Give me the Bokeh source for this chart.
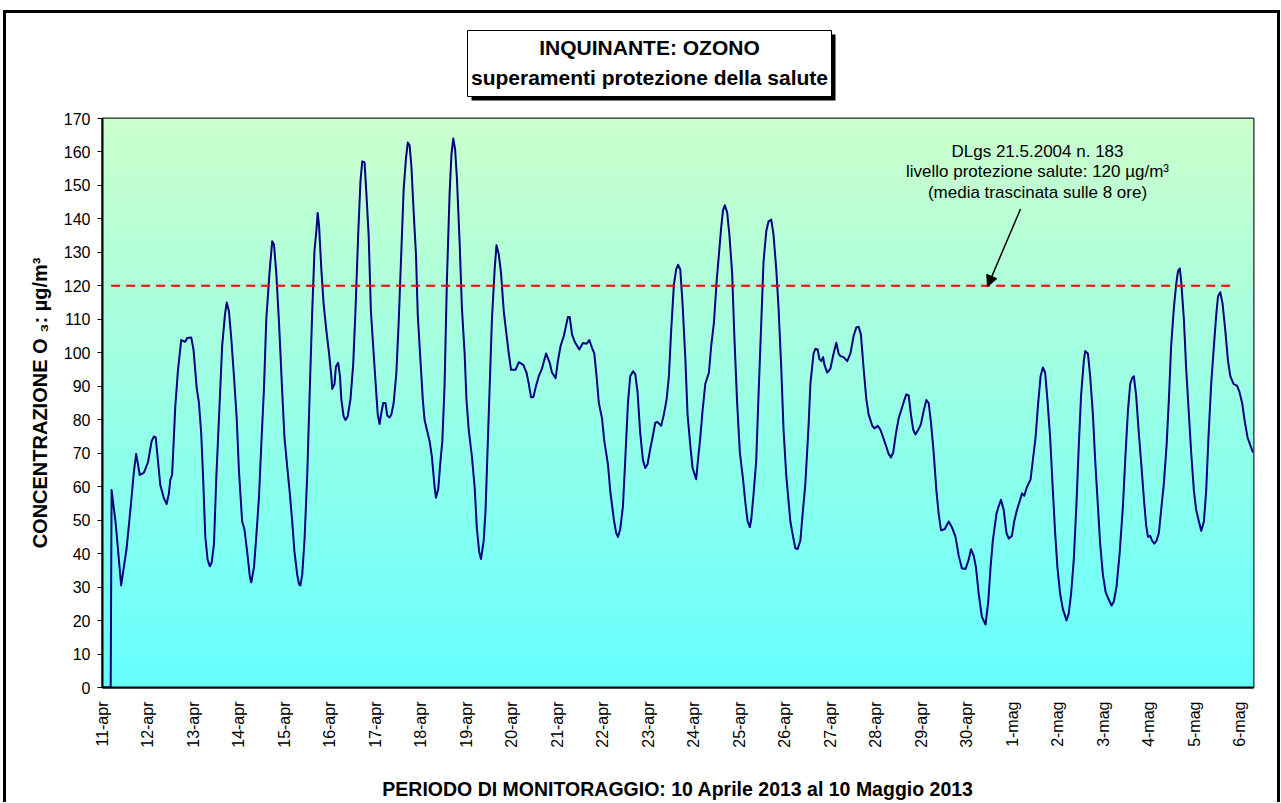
import numpy as np
from math import pi
from bokeh.plotting import figure
from bokeh.layouts import column
from bokeh.core.properties import value
from bokeh.models import Range1d, FixedTicker, Label, Arrow, NormalHead
from bokeh.embed import file_html
from bokeh.resources import INLINE

# ---------------- data ----------------
day_labels = ["11-apr", "12-apr", "13-apr", "14-apr", "15-apr", "16-apr", "17-apr",
              "18-apr", "19-apr", "20-apr", "21-apr", "22-apr", "23-apr", "24-apr",
              "25-apr", "26-apr", "27-apr", "28-apr", "29-apr", "30-apr",
              "1-mag", "2-mag", "3-mag", "4-mag", "5-mag", "6-mag"]

# time in days since 11-apr 00:00
t_days = [
    0.0, 0.18, 0.2, 0.29, 0.41, 0.53, 0.62, 0.69, 0.74, 0.82, 0.91, 1.0, 1.08, 1.13, 1.17,
    1.27, 1.35, 1.41, 1.46, 1.49, 1.53, 1.6, 1.66, 1.73, 1.82, 1.86, 1.95, 2.0, 2.07, 2.12,
    2.17, 2.21, 2.26, 2.31, 2.36, 2.4, 2.45, 2.5, 2.56, 2.63, 2.69, 2.73, 2.78, 2.83, 2.89,
    2.95, 3.0, 3.07, 3.12, 3.18, 3.24, 3.27, 3.33, 3.38, 3.44, 3.49, 3.55, 3.6, 3.67, 3.73,
    3.77, 3.82, 3.88, 3.95, 4.0, 4.06, 4.12, 4.17, 4.22, 4.28, 4.32, 4.35, 4.39, 4.44, 4.5,
    4.56, 4.61, 4.66, 4.7, 4.73, 4.76, 4.81, 4.86, 4.92, 4.98, 5.03, 5.05, 5.1, 5.13, 5.18,
    5.22, 5.25, 5.3, 5.34, 5.39, 5.45, 5.51, 5.56, 5.62, 5.67, 5.71, 5.76, 5.8, 5.85, 5.9,
    5.96, 6.01, 6.05, 6.09, 6.13, 6.17, 6.22, 6.26, 6.31, 6.35, 6.4, 6.46, 6.51, 6.56, 6.62,
    6.67, 6.71, 6.75, 6.79, 6.84, 6.89, 6.93, 6.99, 7.04, 7.08, 7.13, 7.19, 7.24, 7.3, 7.33,
    7.38, 7.43, 7.47, 7.52, 7.57, 7.63, 7.67, 7.71, 7.75, 7.79, 7.85, 7.9, 7.96, 8.0, 8.05,
    8.12, 8.18, 8.23, 8.28, 8.32, 8.38, 8.42, 8.49, 8.56, 8.62, 8.66, 8.71, 8.76, 8.82, 8.88,
    8.93, 8.98, 9.08, 9.15, 9.25, 9.32, 9.37, 9.42, 9.47, 9.52, 9.59, 9.66, 9.75, 9.83, 9.88,
    9.96, 10.01, 10.07, 10.14, 10.23, 10.27, 10.32, 10.38, 10.48, 10.56, 10.64, 10.7, 10.76,
    10.81, 10.86, 10.91, 10.98, 11.03, 11.11, 11.16, 11.24, 11.29, 11.33, 11.38, 11.44,
    11.49, 11.55, 11.6, 11.66, 11.71, 11.76, 11.82, 11.88, 11.93, 11.98, 12.04, 12.09,
    12.15, 12.2, 12.28, 12.34, 12.4, 12.45, 12.5, 12.56, 12.61, 12.65, 12.7, 12.75, 12.81,
    12.86, 12.92, 12.97, 13.05, 13.08, 13.14, 13.19, 13.25, 13.33, 13.38, 13.44, 13.5,
    13.55, 13.6, 13.64, 13.68, 13.73, 13.78, 13.84, 13.89, 13.95, 14.01, 14.08, 14.13,
    14.18, 14.23, 14.26, 14.31, 14.37, 14.42, 14.48, 14.53, 14.59, 14.64, 14.7, 14.75,
    14.81, 14.86, 14.92, 14.97, 15.03, 15.12, 15.18, 15.23, 15.28, 15.34, 15.39, 15.45,
    15.52, 15.56, 15.63, 15.67, 15.72, 15.76, 15.8, 15.84, 15.87, 15.93, 16.0, 16.07,
    16.13, 16.18, 16.22, 16.29, 16.37, 16.44, 16.51, 16.57, 16.62, 16.67, 16.73, 16.79,
    16.84, 16.92, 16.97, 17.04, 17.1, 17.16, 17.23, 17.28, 17.33, 17.38, 17.44, 17.5,
    17.58, 17.63, 17.67, 17.72, 17.77, 17.82, 17.87, 17.94, 17.99, 18.05, 18.11, 18.16,
    18.21, 18.27, 18.33, 18.38, 18.43, 18.51, 18.6, 18.67, 18.75, 18.82, 18.89, 18.97,
    19.04, 19.09, 19.15, 19.2, 19.26, 19.33, 19.41, 19.47, 19.52, 19.57, 19.65, 19.7,
    19.75, 19.81, 19.87, 19.92, 19.99, 20.04, 20.1, 20.18, 20.21, 20.26, 20.32, 20.4,
    20.45, 20.51, 20.56, 20.62, 20.67, 20.72, 20.77, 20.83, 20.89, 20.94, 20.99, 21.05,
    21.11, 21.19, 21.24, 21.29, 21.35, 21.41, 21.46, 21.51, 21.57, 21.6, 21.66, 21.71,
    21.77, 21.82, 21.88, 21.93, 21.99, 22.05, 22.12, 22.18, 22.23, 22.29, 22.36, 22.43,
    22.48, 22.54, 22.59, 22.63, 22.67, 22.72, 22.78, 22.84, 22.89, 22.94, 22.98, 23.03,
    23.07, 23.12, 23.17, 23.22, 23.27, 23.33, 23.39, 23.44, 23.49, 23.55, 23.6, 23.64,
    23.68, 23.71, 23.77, 23.82, 23.88, 23.93, 23.99, 24.04, 24.1, 24.15, 24.21, 24.26,
    24.31, 24.37, 24.43, 24.48, 24.52, 24.57, 24.62, 24.68, 24.74, 24.79, 24.86, 24.94,
    24.99, 25.05, 25.11, 25.17, 25.23, 25.29,
]

o3_values = [
    0, 0, 59, 49, 30.5, 41.6, 54, 64.5, 69.8, 63.5, 64.2, 67.3, 73.6, 75, 74.7,
    60.5, 56.5, 54.8, 58, 62, 63.5, 84, 95, 103.8, 103.3, 104.4, 104.6, 101, 89.6, 85,
    75.9, 63.3, 45, 38.2, 36.2, 37.3, 42.8, 62.2, 80.4, 102, 111.2, 115, 112.4, 104.4, 93,
    80.4, 64.5, 49.6, 47.3, 40.5, 33, 31.4, 35.9, 45, 57, 72.4, 89.6, 110, 123.8, 133.3,
    132.3, 123.8, 109, 88.4, 74.7, 66, 57.6, 49.6, 40.5, 33.7, 30.8, 30.5, 33.7, 44, 63.3,
    90.7, 112.4, 130.6, 136.3, 141.8, 138, 125, 114.7, 106.7, 99.8, 93, 89.2, 90.7, 95.8, 97,
    93, 86.1, 81, 79.9, 81, 86.1, 96.4, 112.4, 135.2, 151.2, 157.2, 156.9, 147.7, 135.2, 112.4,
    99.8, 89.6, 81.6, 78.7, 82.1, 85, 85, 81.2, 80.7, 81.6, 85, 94.1, 109, 127.2, 148.9,
    158, 162.8, 162, 155.7, 142, 129.5, 111.2, 97.5, 86.1, 79.9, 77, 73.6, 69, 59.9, 56.7,
    59.3, 67.9, 73.6, 90.7, 121.5, 147.7, 159.2, 164, 160.9, 152.3, 133, 113.5, 99.8, 86.1, 77,
    69, 59.9, 47.3, 40.5, 38.4, 43.9, 53, 81.6, 110, 125, 132.1, 129.5, 123.8, 112.4, 105.5,
    99.8, 94.9, 94.9, 97.2, 96.4, 94.1, 90.7, 86.7, 86.7, 89.6, 93, 95.3, 99.8, 97, 94.1,
    92.4, 97.5, 102.1, 105, 110.7, 110.7, 105.5, 103.3, 101, 102.9, 102.7, 103.8, 101.5,
    99.8, 93, 85, 80.4, 73.6, 66.7, 58.8, 50.2, 46.2, 45, 47.3, 54.2,
    67.9, 85, 93, 94.5, 93.6, 88.4, 75.9, 67.9, 65.6, 66.7, 71.3, 74.7,
    79.1, 79.3, 78.2, 81.6, 86.1, 93, 106.7, 120.4, 124.9, 126.3, 124.9, 114.7, 98.7,
    81.6, 72.4, 65.6, 62.2, 66.7, 74.7, 82.7, 90.7, 94.1, 102.1, 109, 121.5,
    129.5, 137.5, 142.6, 144.1, 142, 135.2, 123.8, 104.4, 85, 70.2, 62.2, 55.3,
    49.6, 47.9, 50.2, 57.6, 67.9, 87.3, 109, 127.2, 136.3, 139.2, 139.8, 135.2,
    124.9, 113.5, 95.3, 77, 63.3, 49.6, 45, 41.6, 41.4, 43.9, 51.9, 61,
    78.2, 90.7, 99.8, 101.2, 101, 98.1, 97.5, 98.7, 96.4, 94.1, 95.3, 99.8,
    103, 99.8, 99, 98.7, 97.5, 99.8, 105, 107.6, 107.8, 105.5, 95.3, 86.1,
    81.6, 78.2, 77.4, 78.2, 77, 74.7, 71.9, 69.8, 68.7, 70.2, 75.9, 80.4,
    83.9, 86.1, 87.6, 87.3, 81.6, 77, 75.6, 77.2, 78.7, 82.7, 85.9, 85,
    79.3, 70.2, 58.8, 51.9, 47, 47.3, 49.6, 47.9, 45, 39.4, 35.6, 35.4,
    38.2, 41.3, 39.4, 35.9, 28, 21.1, 18.8, 25.7, 35.9, 43.9, 51.9, 54.2,
    56.1, 53, 46.2, 44.5, 45.3, 49.6, 53, 56.5, 58, 57.3, 59.9, 62.2,
    67.9, 74.7, 83.9, 93, 95.6, 94.1, 86.1, 74.7, 58.8, 46.2, 35.9, 28,
    23.4, 20, 22.2, 28, 38.2, 55.3, 72.4, 87.3, 97.5, 100.5, 99.8, 93,
    81.6, 67.9, 54.2, 42.8, 33.7, 28.5, 26.2, 24.5, 25.7, 30.2, 40.5, 54.2,
    67.9, 82.7, 90.7, 92.4, 93, 87.3, 75.9, 65.6, 56.5, 48.5, 45, 45.3,
    43.9, 43, 43.9, 46.2, 53, 61, 72.4, 86.1, 102.1, 113.5, 120.4, 124.4,
    125.2, 121.5, 110, 95.3, 81.6, 70.2, 58.8, 53, 49.6, 46.8, 49.6, 58.8,
    74.7, 90.7, 102.1, 111.2, 116.9, 118.1, 114.7, 106.7, 97.5, 93, 90.7, 90.1,
    88.4, 85, 79.3, 74.7, 72.4, 70.2,
]

limit_days = [0.19, 24.79]
limit_values = [120, 120]
y_ticks = list(range(0, 171, 10))

title_lines = ["INQUINANTE: OZONO", "superamenti protezione della salute"]
note_lines = ["DLgs 21.5.2004 n. 183",
              "livello protezione salute: 120 µg/m³",
              "(media trascinata sulle 8 ore)"]
y_title = "CONCENTRAZIONE O ₃: µg/m³"
x_title = "PERIODO DI MONITORAGGIO: 10 Aprile 2013 al 10 Maggio 2013"

# ---------------- layout (page pixels) ----------------
OX, OY = 6, 13              # page position of the drawing (inside the chart border)
W = 1271                    # drawing width
HH = 95                     # header (title) height
HM = 802 - OY - HH          # main chart height
MY = OY + HH                # page y of the main chart top
FL, FR, FT, FB = 102, 1253, 118, 690
X0, X1 = 0.0, 25.3
Y0, Y1 = 0.0, 170.0
FONT = "Liberation Sans"


def px(x):
    return X0 + (x - FL) * (X1 - X0) / (FR - FL)


def py(y):
    return Y0 + (FB - y) * (Y1 - Y0) / (FB - FT)


# ---------- header with the boxed title (page pixel coordinates) ----------
header = figure(width=W, height=HH, x_range=Range1d(FL, FR), y_range=Range1d(OY + HH, OY),
                output_backend="svg", toolbar_location=None,
                x_axis_type=None, y_axis_type=None,
                min_border_left=FL - OX, min_border_right=OX + W - FR,
                min_border_top=0, min_border_bottom=0)
header.outline_line_color = None
header.background_fill_color = "white"
header.border_fill_color = "white"
header.xgrid.visible = False
header.ygrid.visible = False
header.quad(left=[471], right=[835], top=[34], bottom=[100],
            fill_color="black", line_color=None)
header.quad(left=[467], right=[831], top=[30], bottom=[96],
            fill_color="white", line_color="black", line_width=1)
header.text(x=[649, 649], y=[47, 77], text=title_lines, text_align="center",
            text_baseline="alphabetic", text_font=value(FONT), text_font_size=value("21px"),
            text_font_style="bold", text_color="black")

# ---------- main chart ----------
p = figure(width=W, height=HM, x_range=Range1d(X0, X1), y_range=Range1d(Y0, Y1),
           output_backend="svg", toolbar_location=None,
           min_border_left=FL - OX, min_border_right=OX + W - FR,
           min_border_top=FT - MY, min_border_bottom=MY + HM - FB)
p.background_fill_color = "white"
p.border_fill_color = "white"
p.outline_line_color = "#222222"
p.outline_line_width = 2
p.xgrid.visible = False
p.ygrid.visible = False

# gradient background of plotting area (light green top -> cyan bottom)
n = 256
tt = np.linspace(0.0, 1.0, n)
img = np.empty((n, 2), dtype=np.uint32)
view = img.view(dtype=np.uint8).reshape((n, 2, 4))
view[:, :, 0] = np.round(102 + (204 - 102) * tt)[:, None].astype(np.uint8)
view[:, :, 1] = 255
view[:, :, 2] = np.round(255 + (204 - 255) * tt)[:, None].astype(np.uint8)
view[:, :, 3] = 255
p.image_rgba(image=[img], x=X0, y=Y0, dw=X1 - X0, dh=Y1 - Y0)

# data
p.line(t_days, o3_values, line_color="#000080", line_width=2, line_join="round")
p.line(limit_days, limit_values, line_color="#FF0000", line_width=2, line_dash="9 6")

# axes
p.yaxis.ticker = FixedTicker(ticks=y_ticks)
p.yaxis.minor_tick_line_color = None
p.yaxis.major_tick_in = 0
p.yaxis.major_tick_out = 5
p.yaxis.major_tick_line_color = "black"
p.yaxis.major_label_standoff = 7
p.yaxis.axis_line_color = "black"
p.yaxis.axis_line_width = 2
p.yaxis.major_label_text_font = FONT
p.yaxis.major_label_text_font_size = "16px"
p.yaxis.major_label_text_color = "black"
p.yaxis.axis_label = y_title
p.yaxis.axis_label_text_font = FONT
p.yaxis.axis_label_text_font_size = "20px"
p.yaxis.axis_label_text_font_style = "bold"
p.yaxis.axis_label_text_color = "black"
p.yaxis.axis_label_standoff = 10

p.xaxis.ticker = FixedTicker(ticks=list(range(len(day_labels))))
p.xaxis.major_label_overrides = {i: lab for i, lab in enumerate(day_labels)}
p.xaxis.major_label_orientation = pi / 2
p.xaxis.minor_tick_line_color = None
p.xaxis.major_tick_in = 0
p.xaxis.major_tick_out = 0
p.xaxis.major_label_standoff = 14
p.xaxis.axis_line_color = "black"
p.xaxis.axis_line_width = 2
p.xaxis.major_label_text_font = FONT
p.xaxis.major_label_text_font_size = "16px"
p.xaxis.major_label_text_color = "black"
p.xaxis.axis_label = x_title
p.xaxis.axis_label_text_font = FONT
p.xaxis.axis_label_text_font_size = "19.5px"
p.xaxis.axis_label_text_font_style = "bold"
p.xaxis.axis_label_text_color = "black"
p.xaxis.axis_label_standoff = 27

# annotation of the limit
for txt, base in zip(note_lines, [151, 171.5, 192]):
    p.add_layout(Label(x=px(1037), y=py(base), text=txt, text_align="center",
                       text_baseline="alphabetic", text_font=FONT, text_font_size="17px",
                       text_color="black"))
p.add_layout(Arrow(x_start=px(1020), y_start=py(209), x_end=px(987), y_end=py(287),
                   line_color="black", line_width=1.5,
                   end=NormalHead(size=11, fill_color="black", line_color="black")))

root = column(header, p, spacing=0, margin=(OY - 3, 0, 0, OX - 3),
              styles={"border-top": "3px solid black", "border-left": "3px solid black",
                      "border-right": "3px solid black"})

open("out.html", "w").write(file_html(root, INLINE))
